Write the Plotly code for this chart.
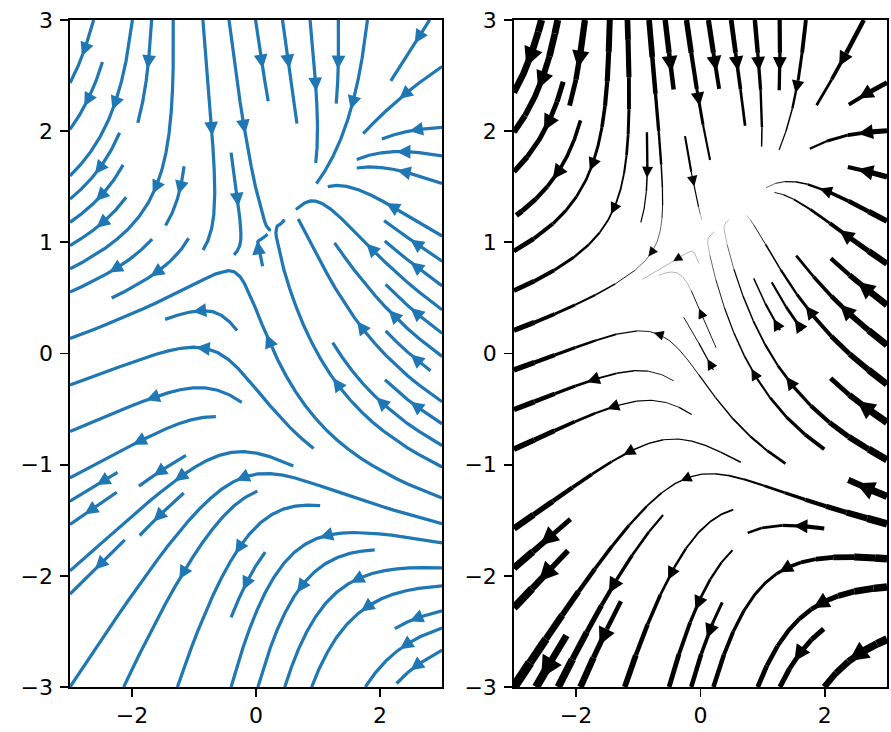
import numpy as np
import plotly.graph_objects as go

# ---------------- data ----------------
half_width = 3.0                 # domain is [-3, 3] x [-3, 3]
n_grid = 100                     # grid samples per axis
u_coeffs = [-1.0, -1.0, 1.0]     # U = c0 + c1*X^2 + c2*Y
v_coeffs = [1.0, 1.0, -1.0]      # V = c0 + c1*X + c2*Y^2
density_left = [0.5, 1.0]
density_right = [0.6, 0.6]
max_linewidth_pt = 5.0
x_tickvals = [-2, 0, 2]
x_ticktext = ["\u22122", "0", "2"]
y_tickvals = [-3, -2, -1, 0, 1, 2, 3]
y_ticktext = ["\u22123", "\u22122", "\u22121", "0", "1", "2", "3"]
left_color = "#1f77b4"
right_color = "#000000"

# ---------------- figure geometry ----------------
W, H = 891, 732
ML, MR, MT, MB = 70, 2, 20, 45
PW, PH = W - ML - MR, H - MT - MB
dom_left = [0.0, 373 / PW]
dom_right = [445 / PW, 1.0]
PX_PER_PT = 2.15

xs = np.linspace(-half_width, half_width, n_grid)
ys = np.linspace(-half_width, half_width, n_grid)
X, Y = np.meshgrid(xs, ys)
U = u_coeffs[0] + u_coeffs[1] * X ** 2 + u_coeffs[2] * Y
V = v_coeffs[0] + v_coeffs[1] * X + v_coeffs[2] * Y ** 2
speed = np.sqrt(U ** 2 + V ** 2)


# ------------- streamline integration (classic matplotlib style) -------------
class Terminate(Exception):
    pass


class InvalidIndex(Exception):
    pass


def interp_scalar(a, xi, yi):
    Ny, Nx = len(a), len(a[0])
    x = int(xi)
    y = int(yi)
    xn = x if x == Nx - 2 else x + 1
    yn = y if y == Ny - 2 else y + 1
    xt = xi - x
    yt = yi - y
    a0 = a[y][x] * (1 - xt) + a[y][xn] * xt
    a1 = a[yn][x] * (1 - xt) + a[yn][xn] * xt
    return a0 * (1 - yt) + a1 * yt


def interp_array(a, xi, yi):
    Ny, Nx = a.shape
    x = xi.astype(int)
    y = yi.astype(int)
    xn = np.clip(x + 1, 0, Nx - 1)
    yn = np.clip(y + 1, 0, Ny - 1)
    xt = xi - x
    yt = yi - y
    a0 = a[y, x] * (1 - xt) + a[y, xn] * xt
    a1 = a[yn, x] * (1 - xt) + a[yn, xn] * xt
    return a0 * (1 - yt) + a1 * yt


def gen_start(mny, mnx):
    xfirst, yfirst = 0, 1
    xlast, ylast = mnx - 1, mny - 1
    x, y = 0, 0
    d = "right"
    for _ in range(mnx * mny):
        yield x, y
        if d == "right":
            x += 1
            if x >= xlast:
                xlast -= 1
                d = "up"
        elif d == "up":
            y += 1
            if y >= ylast:
                ylast -= 1
                d = "left"
        elif d == "left":
            x -= 1
            if x <= xfirst:
                xfirst += 1
                d = "down"
        elif d == "down":
            y -= 1
            if y <= yfirst:
                yfirst += 1
                d = "right"


def streamlines(xv, yv, u, v, density, minlength=0.1, maxlength=4.0):
    nx, ny = len(xv), len(yv)
    dx = xv[1] - xv[0]
    dy = yv[1] - yv[0]
    mnx, mny = (30 * np.broadcast_to(density, 2)).astype(int)
    mnx, mny = int(mnx), int(mny)
    mask = [[0] * mnx for _ in range(mny)]
    st = {"cur": None, "traj": []}
    xg2m = (mnx - 1) / nx
    yg2m = (mny - 1) / ny

    ug = u / dx
    vg = v / dy
    spd = np.sqrt((ug / nx) ** 2 + (vg / ny) ** 2)
    ugl, vgl, spl = ug.tolist(), vg.tolist(), spd.tolist()

    def within(xi, yi):
        return 0 <= xi <= nx - 1 and 0 <= yi <= ny - 1

    def g2m(xi, yi):
        return int(xi * xg2m + 0.5), int(yi * yg2m + 0.5)

    def upd(xm, ym):
        if st["cur"] != (xm, ym):
            if mask[ym][xm] == 0:
                st["traj"].append((ym, xm))
                mask[ym][xm] = 1
                st["cur"] = (xm, ym)
            else:
                raise InvalidIndex

    def start_traj(xg, yg):
        xm, ym = g2m(xg, yg)
        st["traj"] = []
        upd(xm, ym)

    def reset_start(xg, yg):
        st["cur"] = g2m(xg, yg)

    def update_traj(xg, yg):
        if not within(xg, yg):
            raise InvalidIndex
        xm, ym = g2m(xg, yg)
        upd(xm, ym)

    def undo():
        for (a, b) in st["traj"]:
            mask[a][b] = 0

    def fwd(xi, yi):
        ds_dt = interp_scalar(spl, xi, yi)
        if ds_dt == 0:
            raise Terminate
        dt_ds = 1.0 / ds_dt
        return interp_scalar(ugl, xi, yi) * dt_ds, interp_scalar(vgl, xi, yi) * dt_ds

    def bwd(xi, yi):
        a, b = fwd(xi, yi)
        return -a, -b

    def euler(xt, yt, f):
        xi, yi = xt[-1], yt[-1]
        try:
            cx, cy = f(xi, yi)
        except IndexError:
            return 0.0
        if cx == 0:
            dsx = np.inf
        elif cx < 0:
            dsx = xi / -cx
        else:
            dsx = (nx - 1 - xi) / cx
        if cy == 0:
            dsy = np.inf
        elif cy < 0:
            dsy = yi / -cy
        else:
            dsy = (ny - 1 - yi) / cy
        ds = min(dsx, dsy)
        xt.append(xi + cx * ds)
        yt.append(yi + cy * ds)
        return ds

    def rk12(x0, y0, f):
        maxerror = 0.003
        maxds = min(1.0 / mnx, 1.0 / mny, 0.1)
        ds = maxds
        stotal = 0
        xi, yi = x0, y0
        xt, yt = [], []
        while within(xi, yi):
            xt.append(xi)
            yt.append(yi)
            try:
                k1x, k1y = f(xi, yi)
                k2x, k2y = f(xi + ds * k1x, yi + ds * k1y)
            except IndexError:
                stotal += euler(xt, yt, f)
                break
            except Terminate:
                break
            dx1 = ds * k1x
            dy1 = ds * k1y
            dx2 = ds * 0.5 * (k1x + k2x)
            dy2 = ds * 0.5 * (k1y + k2y)
            error = np.hypot((dx2 - dx1) / nx, (dy2 - dy1) / ny)
            if error < maxerror:
                xi += dx2
                yi += dy2
                try:
                    update_traj(xi, yi)
                except InvalidIndex:
                    break
                if stotal + ds > maxlength:
                    break
                stotal += ds
            if error == 0:
                ds = maxds
            else:
                ds = min(maxds, 0.85 * ds * (maxerror / error) ** 0.5)
        return stotal, xt, yt

    def integrate(x0, y0):
        stotal, xtr, ytr = 0.0, [], []
        try:
            start_traj(x0, y0)
        except InvalidIndex:
            return None
        s, xt, yt = rk12(x0, y0, bwd)
        stotal += s
        xtr += xt[::-1]
        ytr += yt[::-1]
        reset_start(x0, y0)
        s, xt, yt = rk12(x0, y0, fwd)
        if len(xtr) > 0:
            xt = xt[1:]
            yt = yt[1:]
        stotal += s
        xtr += xt
        ytr += yt
        if stotal > minlength:
            return xtr, ytr
        undo()
        return None

    out = []
    for xm, ym in gen_start(mny, mnx):
        if mask[ym][xm] == 0:
            xg, yg = xm * (1.0 / xg2m), ym * (1.0 / yg2m)
            t = integrate(xg, yg)
            if t is not None:
                out.append(t)
    res = []
    for t in out:
        tgx, tgy = np.array(t[0]), np.array(t[1])
        tx = tgx * dx + xv[0]
        ty = tgy * dy + yv[0]
        res.append((tx, ty, tgx, tgy))
    return res


# ---------------- drawing helpers ----------------
def to_px(x, y, dom):
    wp = (dom[1] - dom[0]) * PW
    kx = wp / (2 * half_width)
    ky = PH / (2 * half_width)
    return (x + half_width) * kx, (half_width - y) * ky, kx, ky


def arrow_polygon(tail, head, dom):
    tx0, ty0, kx, ky = to_px(tail[0], tail[1], dom)
    hx0, hy0, _, _ = to_px(head[0], head[1], dom)
    ddx, ddy = hx0 - tx0, hy0 - ty0
    L = np.hypot(ddx, ddy)
    if L == 0:
        return None
    ux, uy = ddx / L, ddy / L
    shrink = 2 * PX_PER_PT
    tipx, tipy = hx0, hy0
    if L > 2 * shrink:
        tipx, tipy = hx0 - ux * shrink, hy0 - uy * shrink
    hl = 4 * PX_PER_PT
    hw = 2 * PX_PER_PT
    bx, by = tipx - ux * hl, tipy - uy * hl
    pts = [(tipx, tipy), (bx - uy * hw, by + ux * hw), (bx + uy * hw, by - ux * hw), (tipx, tipy)]
    return [(px / kx - half_width, half_width - py / ky) for px, py in pts]


def arrow_mid(tx, ty):
    s = np.cumsum(np.hypot(np.diff(tx), np.diff(ty)))
    n = int(np.searchsorted(s, s[-1] / 2.0))
    return n, (tx[n], ty[n]), (np.mean(tx[n:n + 2]), np.mean(ty[n:n + 2]))


fig = go.Figure()

# ---- left panel: varying density ----
left = streamlines(xs, ys, U, V, density_left)
lx, ly, ax_, ay_ = [], [], [], []
for tx, ty, tgx, tgy in left:
    if len(tx) < 2:
        continue
    lx += list(tx) + [None]
    ly += list(ty) + [None]
    n, tail, head = arrow_mid(tx, ty)
    poly = arrow_polygon(tail, head, dom_left)
    if poly:
        ax_ += [p[0] for p in poly] + [None]
        ay_ += [p[1] for p in poly] + [None]
fig.add_trace(go.Scatter(x=lx, y=ly, mode="lines", line=dict(color=left_color, width=1.5 * PX_PER_PT),
                         hoverinfo="skip", showlegend=False, xaxis="x", yaxis="y"))
fig.add_trace(go.Scatter(x=ax_, y=ay_, mode="lines", fill="toself", fillcolor=left_color,
                         line=dict(color=left_color, width=1.5 * PX_PER_PT), hoverinfo="skip",
                         showlegend=False, xaxis="x", yaxis="y"))

# ---- right panel: varying line width ----
lw_grid = max_linewidth_pt * speed / speed.max()
right = streamlines(xs, ys, U, V, density_right)
STEP = 0.3
bins = {}
abins = {}
for tx, ty, tgx, tgy in right:
    if len(tx) < 2:
        continue
    widths = interp_array(lw_grid, tgx, tgy)[:-1] * PX_PER_PT
    q = np.maximum(1, np.round(widths / STEP)).astype(int)
    i = 0
    nseg = len(widths)
    while i < nseg:
        j = i
        while j + 1 < nseg and q[j + 1] == q[i]:
            j += 1
        b = bins.setdefault(int(q[i]), ([], []))
        b[0].extend(list(tx[i:j + 2]) + [None])
        b[1].extend(list(ty[i:j + 2]) + [None])
        i = j + 1
    n, tail, head = arrow_mid(tx, ty)
    poly = arrow_polygon(tail, head, dom_right)
    if poly:
        qa = int(max(1, round(widths[min(n, nseg - 1)] / STEP)))
        b = abins.setdefault(qa, ([], []))
        b[0].extend([p[0] for p in poly] + [None])
        b[1].extend([p[1] for p in poly] + [None])

for qv in sorted(bins):
    bx, by = bins[qv]
    fig.add_trace(go.Scatter(x=bx, y=by, mode="lines", line=dict(color=right_color, width=qv * STEP),
                             hoverinfo="skip", showlegend=False, xaxis="x2", yaxis="y2"))
for qv in sorted(abins):
    bx, by = abins[qv]
    fig.add_trace(go.Scatter(x=bx, y=by, mode="lines", fill="toself", fillcolor=right_color,
                             line=dict(color=right_color, width=qv * STEP), hoverinfo="skip",
                             showlegend=False, xaxis="x2", yaxis="y2"))

axis_common = dict(range=[-half_width, half_width], showline=True, linecolor="black", linewidth=1.7,
                   mirror=True, ticks="outside", ticklen=8, tickwidth=1.7, tickcolor="black",
                   showgrid=False, zeroline=False, ticklabeloverflow="allow", fixedrange=True,
                   tickfont=dict(family="DejaVu Sans", size=22, color="black"))
fig.update_layout(
    width=W, height=H, margin=dict(l=ML, r=MR, t=MT, b=MB),
    plot_bgcolor="white", paper_bgcolor="white", showlegend=False, hovermode=False,
    xaxis=dict(domain=dom_left, anchor="y", tickvals=x_tickvals, ticktext=x_ticktext, **axis_common),
    yaxis=dict(domain=[0, 1], anchor="x", tickvals=y_tickvals, ticktext=y_ticktext,
               ticklabelstandoff=3, **axis_common),
    xaxis2=dict(domain=dom_right, anchor="y2", tickvals=x_tickvals, ticktext=x_ticktext, **axis_common),
    yaxis2=dict(domain=[0, 1], anchor="x2", tickvals=y_tickvals, ticktext=y_ticktext,
                ticklabelstandoff=3, **axis_common),
)
fig.write_html(
    "out.html",
    config={"displayModeBar": False, "staticPlot": True},
    post_script="document.body.style.margin='0';document.body.style.overflow='hidden';"
                "document.documentElement.style.overflow='hidden';",
)
